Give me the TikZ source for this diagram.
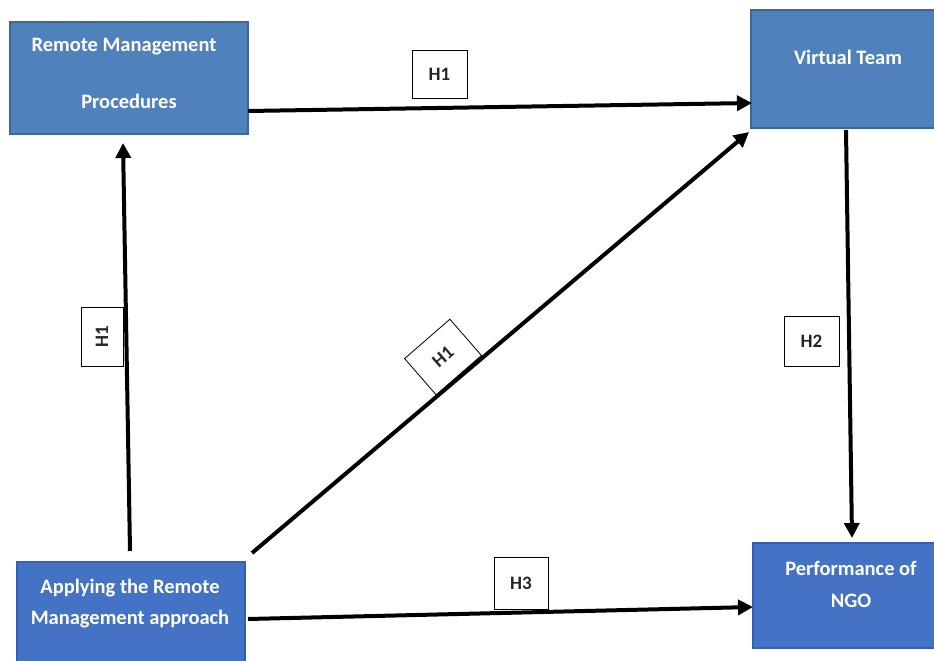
\documentclass[tikz,border=0pt]{standalone}
\usepackage{fontspec}
\setmainfont{Carlito}
\usetikzlibrary{arrows.meta}
\definecolor{boxA}{HTML}{4F81BD}
\definecolor{boxAedge}{HTML}{3C6796}
\definecolor{boxB}{HTML}{4472C4}
\definecolor{boxBedge}{HTML}{3460AE}
\tikzset{
  boxa/.style={fill=boxA, draw=boxAedge, line width=1.5pt},
  boxb/.style={fill=boxB, draw=boxBedge, line width=1.5pt},
  wtxt/.style={text=white, font=\bfseries\fontsize{20.5}{24}\selectfont, inner sep=0pt, anchor=center},
  hbox/.style={draw=black, fill=white, line width=0.8pt, inner sep=0pt, font=\bfseries\fontsize{19}{22}\selectfont, text=black!85},
  conn/.style={line width=4pt, -{Triangle[length=15pt,width=15pt]}},
}
\begin{document}
\begin{tikzpicture}[x=1pt,y=-1pt]
\useasboundingbox (0,0) rectangle (934,661);
\fill[white] (0,0) rectangle (934,661);
\clip (0,0) rectangle (934,661);
% boxes
\draw[boxa] (10,22) rectangle (248,134);
\node[wtxt] (rmp1) at (124,47) {Remote Management};
\node[wtxt] (rmp2) at (129,101) {Procedures};
\draw[boxa] (751,10) rectangle (945,128);
\node[wtxt] (vt) at (848,57) {Virtual Team};
\draw[boxb] (17,562) rectangle (245,670);
\node[wtxt] (ap1) at (130,588) {Applying the Remote};
\node[wtxt] (ap2) at (130,619) {Management approach};
\draw[boxb] (753,543) rectangle (945,648);
\node[wtxt] (pf1) at (851,568) {Performance of};
\node[wtxt] (pf2) at (851,601) {NGO};
% connectors
\coordinate (s1) at (248,111); \coordinate (e1) at (752,103);
\coordinate (s2) at (130,551); \coordinate (e2) at (123,143);
\coordinate (s3) at (252,553); \coordinate (e3) at (749,132);
\coordinate (s4) at (846,130); \coordinate (e4) at (852,538);
\coordinate (s5) at (248,619); \coordinate (e5) at (753,607);
\draw[conn] (s1) -- (e1);
\draw[conn] (s2) -- (e2);
\draw[conn] (s3) -- (e3);
\draw[conn] (s4) -- (e4);
\draw[conn] (s5) -- (e5);
% labels
\node[hbox, minimum width=55pt, minimum height=48pt] (h1a) at (439.5,74) {H1};
\node[hbox, minimum width=59pt, minimum height=42pt, rotate=90] (h1b) at (102,337) {H1};
\node[hbox, minimum width=60pt, minimum height=48pt, rotate=41] (h1c) at (443,357) {H1};
\node[hbox, minimum width=55pt, minimum height=50pt] (h2) at (811.5,341) {H2};
\node[hbox, minimum width=54pt, minimum height=52pt] (h3) at (521,583) {H3};
\end{tikzpicture}
\end{document}
